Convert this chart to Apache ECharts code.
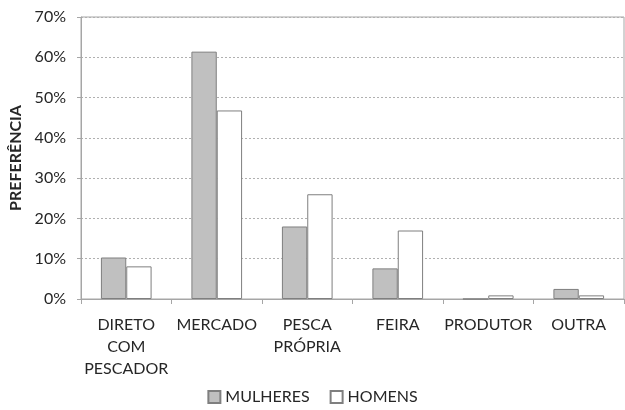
<!DOCTYPE html>
<html>
<head>
<meta charset="utf-8">
<script src="https://cdn.jsdelivr.net/npm/echarts@6/dist/echarts.min.js"></script>
<style>
  html, body { margin: 0; padding: 0; background: #fff; }
  #chart { width: 625px; height: 410px; }
</style>
</head>
<body>
<div id="chart"></div>
<script>
// categorias e valores (%)
const categories = ['DIRETO\nCOM\nPESCADOR', 'MERCADO', 'PESCA\nPRÓPRIA', 'FEIRA', 'PRODUTOR', 'OUTRA'];
const mulheres = [10.3, 61.4, 18.0, 7.6, 0, 2.5];
const homens = [8.1, 46.8, 26.0, 17.0, 0.9, 0.9];

const chart = echarts.init(document.getElementById('chart'));
const font = 'Lato, "Open Sans", sans-serif';

const option = {
  animation: false,
  textStyle: { fontFamily: font },
  legend: {
    bottom: 0,
    left: 'center',
    icon: 'rect',
    itemWidth: 12,
    itemHeight: 12,
    itemGap: 20,
    textStyle: { fontSize: 16, color: '#262626', fontFamily: font },
    data: ['MULHERES', 'HOMENS'],
  },
  grid: {
    left: 81,
    right: 1,
    top: 17,
    bottom: 111,
    outerBoundsMode: 'none',
    show: true,
    borderColor: '#a6a6a6',
    borderWidth: 1,
  },
  xAxis: {
    type: 'category',
    data: categories,
    axisLine: { lineStyle: { color: '#a6a6a6' } },
    axisTick: { show: true, alignWithLabel: false, length: 5, lineStyle: { color: '#a6a6a6' } },
    axisLabel: { fontSize: 16, color: '#262626', lineHeight: 22, margin: 15, interval: 0, fontFamily: font },
  },
  yAxis: {
    type: 'value',
    min: 0,
    max: 70,
    interval: 10,
    name: 'PREFERÊNCIA',
    nameLocation: 'middle',
    nameGap: 55,
    nameTextStyle: { fontSize: 16, fontWeight: 'bold', color: '#262626', fontFamily: font },
    axisLine: { show: true, lineStyle: { color: '#a6a6a6' } },
    axisTick: { show: true, length: 4, lineStyle: { color: '#a6a6a6' } },
    axisLabel: { fontSize: 16, color: '#262626', margin: 15, formatter: '{value}%', fontFamily: font },
    splitLine: { lineStyle: { color: '#b0b0b0', type: [2, 2], width: 1 } },
  },
  series: [
    {
      name: 'MULHERES',
      type: 'bar',
      data: mulheres,
      barGap: '0%',
      barCategoryGap: '44%',
      itemStyle: { color: '#c0c0c0', borderColor: '#7f7f7f', borderWidth: 1 },
    },
    {
      name: 'HOMENS',
      type: 'bar',
      data: homens,
      itemStyle: { color: '#ffffff', borderColor: '#7f7f7f', borderWidth: 1 },
    },
  ],
};

chart.setOption(option);
</script>
</body>
</html>
